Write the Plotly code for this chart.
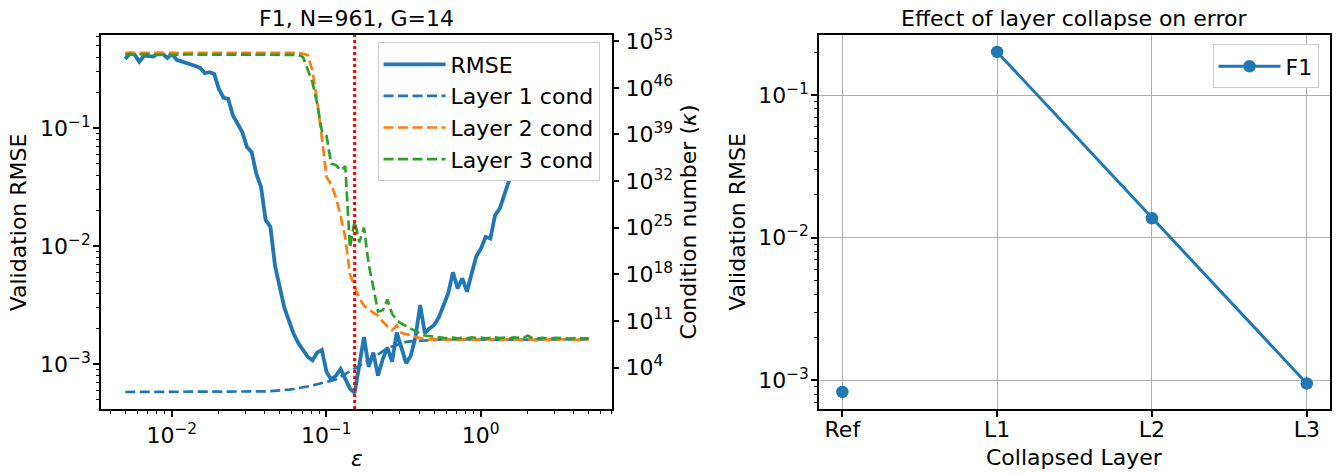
import numpy as np
import plotly.graph_objects as go

# ---------------- data ----------------
# epsilon sweep: 100 log-spaced values from 0.005 to 5 (read from the x extent)
eps = np.geomspace(0.005, 5.0, 100)

rmse = [
    0.385, 0.430, 0.420, 0.366, 0.411, 0.404, 0.404, 0.430, 0.426, 0.394,
    0.426, 0.379, 0.369, 0.359, 0.344, 0.336, 0.324, 0.292, 0.298, 0.288,
    0.215, 0.181, 0.177, 0.128, 0.109, 0.0925, 0.0691, 0.0627, 0.0411, 0.0318,
    0.0166, 0.0146, 0.0068, 0.00440, 0.00300, 0.00232, 0.00180, 0.00150, 0.00132, 0.00115,
    0.00108, 0.00125, 0.00132, 0.00086, 0.00074, 0.00080, 0.00091, 0.00075, 0.00062, 0.00057,
    0.00100, 0.00170, 0.00095, 0.00125, 0.00080, 0.00110, 0.00138, 0.00105, 0.00185, 0.00140,
    0.00102, 0.00118, 0.00170, 0.00317, 0.00183, 0.00201, 0.00215, 0.00250, 0.00320, 0.00400,
    0.00600, 0.00438, 0.00533, 0.00411, 0.00587, 0.00822, 0.00955, 0.0120, 0.0116, 0.0183,
    0.0208, 0.0279, 0.0361, 0.046, 0.058, 0.072, 0.090, 0.110, 0.130, 0.160,
    0.190, 0.220, 0.260, 0.290, 0.320, 0.350, 0.370, 0.390, 0.400, 0.410,
]

cond_layer1 = [
    2.1, 2.1, 2.1, 2.1, 2.1, 2.1, 2.1, 2.1, 2.1, 2.1,
    2.1, 2.1, 2.1, 2.1, 2.1, 2.1, 2.1, 2.1, 2.1, 2.1,
    2.1, 2.1, 2.1, 2.1, 2.1, 2.1, 2.1, 2.2, 2.3, 2.45,
    2.6, 2.9, 3.2, 3.4, 4.0, 4.8, 6.0, 7.6, 10.0, 13.0,
    19.0, 30.0, 48.0, 71.0, 100.0, 160.0, 400.0, 1.0e3, 2.8e3, 7.1e3,
    2.0e4, 5.0e4, 1.1e5, 3.2e5, 8.9e5, 2.8e6, 7.9e6, 1.4e7, 2.5e7, 4.5e7,
    7.1e7, 8.3e7, 9.5e7, 1.1e8, 1.25e8, 1.4e8, 1.5e8, 1.55e8, 1.6e8, 1.58e8,
    1.6e8, 1.57e8, 1.6e8, 1.62e8, 1.58e8, 1.6e8, 1.59e8, 1.61e8, 1.6e8, 1.58e8,
    1.6e8, 1.62e8, 1.6e8, 1.59e8, 1.6e8, 1.61e8, 1.6e8, 1.58e8, 1.6e8, 1.62e8,
    1.6e8, 1.59e8, 1.6e8, 1.61e8, 1.6e8, 1.58e8, 1.6e8, 1.61e8, 1.6e8, 1.6e8,
]

cond_layer2 = [
    1.8e51, 1.8e51, 1.8e51, 1.8e51, 1.8e51, 1.8e51, 1.8e51, 1.8e51, 1.8e51, 1.8e51,
    1.8e51, 1.8e51, 1.8e51, 1.8e51, 1.8e51, 1.8e51, 1.8e51, 1.8e51, 1.8e51, 1.8e51,
    1.8e51, 1.8e51, 1.8e51, 1.8e51, 1.8e51, 1.8e51, 1.8e51, 1.8e51, 1.8e51, 1.8e51,
    1.8e51, 1.8e51, 1.8e51, 1.8e51, 1.8e51, 1.8e51, 1.8e51, 1.8e51, 1.26e51, 7.9e50,
    3.2e48, 1.0e44, 3.2e38, 4.0e32, 3.2e31, 3.2e29, 6.3e26, 3.2e23, 1.0e18, 1.6e16,
    2.5e14, 2.0e13, 5.0e12, 1.6e12, 6.3e11, 7.9e10, 1.6e10, 4.0e9, 2.0e10, 1.6e9,
    1.0e9, 7.9e8, 4.0e8, 2.5e8, 1.8e8, 1.5e8, 2.0e8, 1.3e8, 1.7e8, 1.4e8,
    1.9e8, 1.3e8, 1.6e8, 2.1e8, 1.4e8, 1.7e8, 1.2e8, 1.8e8, 1.5e8, 2.0e8,
    1.3e8, 1.6e8, 1.9e8, 1.4e8, 1.7e8, 1.3e8, 1.9e8, 1.5e8, 1.2e8, 1.8e8,
    1.4e8, 1.7e8, 1.3e8, 1.6e8, 1.9e8, 1.4e8, 1.5e8, 1.3e8, 1.6e8, 1.5e8,
]

cond_layer3 = [
    1.0e51, 1.3e51, 0.9e51, 1.1e51, 1.0e51, 1.2e51, 0.9e51, 1.0e51, 1.1e51, 1.0e51,
    0.9e51, 1.0e51, 1.0e51, 1.0e51, 1.0e51, 1.0e51, 1.0e51, 1.0e51, 1.0e51, 1.0e51,
    1.0e51, 1.0e51, 1.0e51, 1.0e51, 1.0e51, 1.0e51, 1.0e51, 1.0e51, 1.0e51, 1.0e51,
    1.0e51, 1.0e51, 1.0e51, 1.0e51, 1.0e51, 1.0e51, 1.0e51, 0.9e51, 4.0e50, 6.3e48,
    6.3e46, 4.0e43, 3.2e39, 6.3e38, 4.0e34, 2.5e34, 4.0e33, 1.6e34, 1.0e22, 1.0e26,
    6.3e22, 1.0e25, 3.2e19, 1.0e16, 2.5e12, 4.0e12, 1.6e14, 1.2e12, 1.26e11, 4.0e10,
    1.6e10, 6.3e9, 3.2e9, 1.26e9, 6.3e8, 5.0e8, 4.0e8, 3.2e8, 2.8e8, 2.6e8,
    3.2e8, 2.4e8, 3.0e8, 2.5e8, 3.5e8, 2.7e8, 3.1e8, 2.3e8, 2.9e8, 3.4e8,
    2.6e8, 3.0e8, 2.4e8, 3.3e8, 2.8e8, 2.5e8, 6.3e8, 2.4e8, 2.2e8, 2.9e8,
    2.5e8, 2.3e8, 2.8e8, 2.4e8, 2.6e8, 2.2e8, 2.5e8, 2.3e8, 2.4e8, 2.3e8,
]

collapse_layers = ["Ref", "L1", "L2", "L3"]
collapse_rmse = [8.3e-4, 0.201, 0.0137, 9.5e-4]

# ---------------- style ----------------
FONT = "DejaVu Sans"
BLUE, ORANGE, GREEN = "#1f77b4", "#ff7f0e", "#2ca02c"
W, H = 1343, 475
ML, MR, MT, MB = 100.7, 13.0, 34.5, 65.7
PW = W - ML - MR
PH = H - MT - MB

def px_to_xpaper(px):
    return (px - ML) / PW

def py_to_ypaper(py):
    return (H - MB - py) / PH

left_dom = [0.0, px_to_xpaper(612.0)]
right_dom = [px_to_xpaper(819.0), 1.0]

def sup(e):
    s = str(e).replace("-", "\u2212")
    return "10<sup>" + s + "</sup>"

def minor_vals(lo, hi):
    return [m * 10.0 ** e for e in range(lo, hi) for m in range(2, 10)]

TICKFONT = dict(family=FONT, size=22, color="black")
axis_common = dict(
    showline=True, linecolor="black", linewidth=1.6, mirror=True,
    ticks="outside", ticklen=6, tickwidth=1.6, tickcolor="black",
    showgrid=False, zeroline=False, tickfont=TICKFONT,
)
MINOR = dict(ticks="outside", ticklen=3.5, tickwidth=1.2, tickcolor="black", showgrid=False)

fig = go.Figure()

fig.add_trace(go.Scatter(
    x=eps, y=rmse, mode="lines", name="RMSE",
    line=dict(color=BLUE, width=3.8), xaxis="x", yaxis="y", legend="legend",
))
for name, vals, col in [("Layer 1 cond", cond_layer1, BLUE),
                        ("Layer 2 cond", cond_layer2, ORANGE),
                        ("Layer 3 cond", cond_layer3, GREEN)]:
    fig.add_trace(go.Scatter(
        x=eps, y=vals, mode="lines", name=name,
        line=dict(color=col, width=2.7, dash="10px,4.5px"),
        xaxis="x", yaxis="y2", legend="legend",
    ))

fig.add_trace(go.Scatter(
    x=collapse_layers[1:], y=collapse_rmse[1:], mode="lines+markers", name="F1",
    line=dict(color=BLUE, width=3), marker=dict(color=BLUE, size=12.5),
    xaxis="x2", yaxis="y3", legend="legend2",
))
fig.add_trace(go.Scatter(
    x=collapse_layers[:1], y=collapse_rmse[:1], mode="markers", name="F1 ref",
    marker=dict(color=BLUE, size=12.5), showlegend=False,
    xaxis="x2", yaxis="y3",
))

# vertical dotted line at the epsilon of minimum RMSE
eps_best = float(eps[int(np.argmin(rmse))])
fig.add_shape(type="line", xref="x", yref="y domain", x0=eps_best, x1=eps_best,
              y0=0, y1=1, line=dict(color="red", width=3, dash="dot"), layer="above")

fig.update_layout(
    width=W, height=H,
    margin=dict(l=ML, r=MR, t=MT, b=MB, pad=0),
    paper_bgcolor="white", plot_bgcolor="white",
    font=dict(family=FONT, size=22, color="black"),
    xaxis=dict(
        type="log", domain=left_dom, anchor="y", range=[-2.458, 0.851],
        tickmode="array", tickvals=[0.01, 0.1, 1.0], ticktext=[sup(-2), sup(-1), sup(0)],
        minor=dict(tickmode="array", tickvals=minor_vals(-3, 1), **MINOR),
        **axis_common,
    ),
    yaxis=dict(
        type="log", domain=[0, 1], anchor="x", range=[-3.380, -0.2105],
        tickmode="array", tickvals=[1e-3, 1e-2, 1e-1], ticktext=[sup(-3), sup(-2), sup(-1)],
        minor=dict(tickmode="array", tickvals=minor_vals(-4, 0), **MINOR),
        ticklabelstandoff=-2,
        **axis_common,
    ),
    yaxis2=dict(
        type="log", overlaying="y", side="right", anchor="x", range=[-2.23, 53.93],
        tickmode="array", tickvals=[10.0 ** e for e in range(4, 54, 7)],
        ticktext=[sup(e) for e in range(4, 54, 7)],
        showline=False, ticks="outside", ticklen=6, tickwidth=1.6, tickcolor="black",
        showgrid=False, zeroline=False, tickfont=TICKFONT, ticklabelstandoff=2,
    ),
    xaxis2=dict(
        type="category", domain=right_dom, anchor="y3", range=[-0.15, 3.15],
        categoryorder="array", categoryarray=collapse_layers,
        showline=True, linecolor="black", linewidth=1.6, mirror=True,
        ticks="outside", ticklen=6, tickwidth=1.6, tickcolor="black",
        showgrid=True, gridcolor="#b0b0b0", gridwidth=1.2, zeroline=False,
        tickfont=TICKFONT, ticklabelstandoff=-6,
    ),
    yaxis3=dict(
        type="log", domain=[0, 1], anchor="x2", range=[-3.201, -0.578],
        tickmode="array", tickvals=[1e-3, 1e-2, 1e-1], ticktext=[sup(-3), sup(-2), sup(-1)],
        minor=dict(tickmode="array", tickvals=minor_vals(-4, 0), **MINOR),
        showline=True, linecolor="black", linewidth=1.6, mirror=True,
        ticks="outside", ticklen=6, tickwidth=1.6, tickcolor="black",
        showgrid=True, gridcolor="#b0b0b0", gridwidth=1.2, zeroline=False,
        tickfont=TICKFONT, ticklabelstandoff=-2,
    ),
    legend=dict(
        x=px_to_xpaper(377.3), y=py_to_ypaper(42.0), xanchor="left", yanchor="top",
        bgcolor="white", bordercolor="#cccccc", borderwidth=1, itemwidth=62,
        font=dict(family=FONT, size=22, color="black"),
    ),
    legend2=dict(
        x=px_to_xpaper(1318.5), y=py_to_ypaper(44.0), xanchor="right", yanchor="top",
        bgcolor="white", bordercolor="#cccccc", borderwidth=1, itemwidth=62,
        font=dict(family=FONT, size=22, color="black"),
    ),
    showlegend=True,
)

annotations = [
    dict(text="F1, N=961, G=14", x=sum(left_dom) / 2, y=py_to_ypaper(17.5),
         xref="paper", yref="paper", xanchor="center", yanchor="middle",
         showarrow=False, font=dict(size=22)),
    dict(text="Effect of layer collapse on error", x=sum(right_dom) / 2, y=py_to_ypaper(17.5),
         xref="paper", yref="paper", xanchor="center", yanchor="middle",
         showarrow=False, font=dict(size=22)),
    dict(text="Validation RMSE", x=px_to_xpaper(18), y=0.5, textangle=-90,
         xref="paper", yref="paper", xanchor="center", yanchor="middle",
         showarrow=False, font=dict(size=22)),
    dict(text="Condition number (<i>\u03ba</i>)", x=px_to_xpaper(688.3), y=0.5, textangle=-90,
         xref="paper", yref="paper", xanchor="center", yanchor="middle",
         showarrow=False, font=dict(size=22)),
    dict(text="Validation RMSE", x=px_to_xpaper(736.7), y=0.5, textangle=-90,
         xref="paper", yref="paper", xanchor="center", yanchor="middle",
         showarrow=False, font=dict(size=22)),
    dict(text="<i>\u03b5</i>", x=sum(left_dom) / 2, y=py_to_ypaper(459),
         xref="paper", yref="paper", xanchor="center", yanchor="middle",
         showarrow=False, font=dict(size=22)),
    dict(text="Collapsed Layer", x=sum(right_dom) / 2, y=py_to_ypaper(458),
         xref="paper", yref="paper", xanchor="center", yanchor="middle",
         showarrow=False, font=dict(size=22)),
]
fig.update_layout(annotations=annotations)

# remove the browser's default 8px body margin so the figure sits at (0, 0)
fig.write_html("out.html", config={"displayModeBar": False},
               post_script="document.body.style.margin='0px';")
